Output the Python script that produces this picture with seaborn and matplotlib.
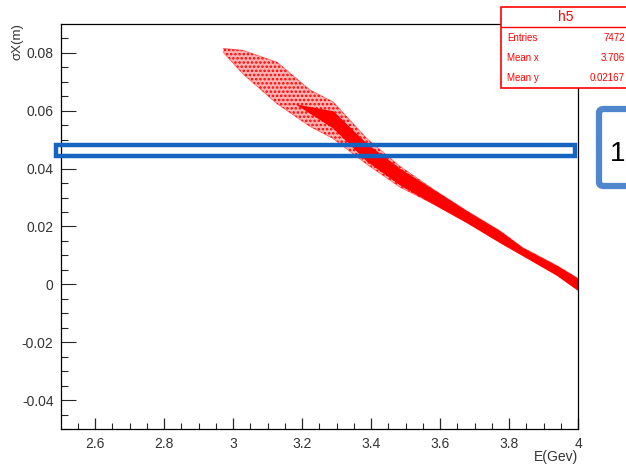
import matplotlib
matplotlib.use("Agg")
import matplotlib.pyplot as plt
import matplotlib.patches as patches
import seaborn as sns
import pandas as pd

# h5 scatter: x, upper and lower edge of the whole red cloud
band_x = [2.971, 3.029, 3.128, 3.223, 3.290, 3.388, 3.484, 3.580, 3.678, 3.774, 3.840, 3.939, 4.0]
band_hi = [0.0816, 0.0809, 0.0768, 0.0672, 0.0631, 0.0504, 0.0408, 0.0329, 0.0254, 0.0185, 0.0127, 0.0065, 0.0021]
band_lo = [0.0803, 0.0727, 0.0624, 0.0546, 0.0504, 0.0415, 0.0336, 0.0278, 0.0213, 0.0144, 0.0099, 0.0031, -0.0021]

# dense (solid red) core of the cloud
core_x = [3.180, 3.290, 3.388, 3.484, 3.580, 3.678, 3.774, 3.840, 3.939, 4.0]
core_hi = [0.0624, 0.0600, 0.0487, 0.0401, 0.0329, 0.0254, 0.0185, 0.0127, 0.0065, 0.0021]
core_lo = [0.0624, 0.0540, 0.0425, 0.0343, 0.0278, 0.0213, 0.0144, 0.0099, 0.0031, -0.0021]

x_ticks = [2.6, 2.8, 3.0, 3.2, 3.4, 3.6, 3.8, 4.0]
x_labels = ["2.6", "2.8", "3", "3.2", "3.4", "3.6", "3.8", "4"]
y_ticks = [-0.04, -0.02, 0.0, 0.02, 0.04, 0.06, 0.08]
y_labels = ["-0.04", "-0.02", "0", "0.02", "0.04", "0.06", "0.08"]

stats_names = ["Entries", "Mean x", "Mean y"]
stats_values = ["7472", "3.706", "0.02167"]

sns.set_style("white")
plt.rcParams["font.family"] = ["Liberation Sans", "DejaVu Sans"]
plt.rcParams["hatch.linewidth"] = 1.2

W, H = 626, 466
fig = plt.figure(figsize=(W / 100, H / 100), dpi=100)
fig.patch.set_facecolor("white")


def fx(px):
    return px / W


def fy(py):
    return 1 - py / H


ax = fig.add_axes([fx(60.5), fy(429), fx(578) - fx(60.5), fy(24) - fy(429)])

band = pd.DataFrame({"E": band_x, "hi": band_hi, "lo": band_lo})
core = pd.DataFrame({"E": core_x, "hi": core_hi, "lo": core_lo})

# whole cloud: light fill with red speckles
ax.fill_between(band["E"], band["lo"], band["hi"], facecolor=(1, 0, 0, 0.3),
                edgecolor="red", hatch="....", linewidth=0)
# dense core
ax.fill_between(core["E"], core["lo"], core["hi"], facecolor="red", linewidth=0)
sns.lineplot(data=band, x="E", y="hi", color="red", linewidth=0.6, alpha=0.5, ax=ax)
sns.lineplot(data=band, x="E", y="lo", color="red", linewidth=0.6, alpha=0.5, ax=ax)

ax.set_xlim(2.5, 4.0)
ax.set_ylim(-0.05, 0.09)
ax.set_xticks(x_ticks)
ax.set_xticklabels(x_labels)
ax.set_yticks(y_ticks)
ax.set_yticklabels(y_labels)
ax.set_xticks([v / 100 for v in range(255, 400, 5)], minor=True)
ax.set_yticks([v / 1000 for v in range(-50, 90, 5)], minor=True)
ax.tick_params(axis="x", which="major", direction="in", length=8, width=0.9, pad=6,
               labelsize=10, labelcolor="#333333", bottom=True)
ax.tick_params(axis="x", which="minor", direction="in", length=4.3, width=0.8, bottom=True)
ax.tick_params(axis="y", which="major", direction="in", length=11, width=0.8, pad=5,
               labelsize=10, labelcolor="#333333", left=True)
ax.tick_params(axis="y", which="minor", direction="in", length=5, width=0.8, left=True)
for s in ax.spines.values():
    s.set_color("black")
    s.set_linewidth(0.9)
ax.set_xlabel("")
ax.set_ylabel("")

fig.text(fx(578), fy(457), "E(Gev)", ha="right", va="center", fontsize=10, color="#333333")
fig.text(fx(17), fy(23), "σX(m)", ha="center", va="top", rotation=90, fontsize=9.5, color="#333333")

# stats box
fig.add_artist(patches.Rectangle((fx(501), fy(88)), fx(660) - fx(501), fy(7) - fy(88),
                                 transform=fig.transFigure, facecolor="white", edgecolor="red", linewidth=1.2))
fig.add_artist(plt.Line2D([fx(501), fx(640)], [fy(27), fy(27)], transform=fig.transFigure,
                          color="red", linewidth=1.0))
fig.text(fx(566), fy(17), "h5", ha="center", va="center", fontsize=10, color="red")
for i, (n, v) in enumerate(zip(stats_names, stats_values)):
    y = fy(38 + 20 * i)
    fig.text(fx(507), y, n, ha="left", va="center", fontsize=7, color="red")
    fig.text(fx(625), y, v, ha="right", va="center", fontsize=7, color="red")

# blue highlight around 0.045
fig.add_artist(patches.Rectangle((fx(56), fy(156)), fx(575) - fx(56), fy(144.5) - fy(156),
                                 transform=fig.transFigure, facecolor="none", edgecolor="#1565c0", linewidth=3.2))
fig.add_artist(patches.FancyBboxPatch((fx(599), fy(186)), fx(660) - fx(599), fy(109) - fy(186),
                                      boxstyle="round,pad=0,rounding_size=0.008", transform=fig.transFigure,
                                      facecolor="white", edgecolor="#4f86cc", linewidth=4.5))
fig.text(fx(610), fy(154), "1", ha="left", va="center", fontsize=20, color="black")

fig.savefig("out.png", dpi=100)
